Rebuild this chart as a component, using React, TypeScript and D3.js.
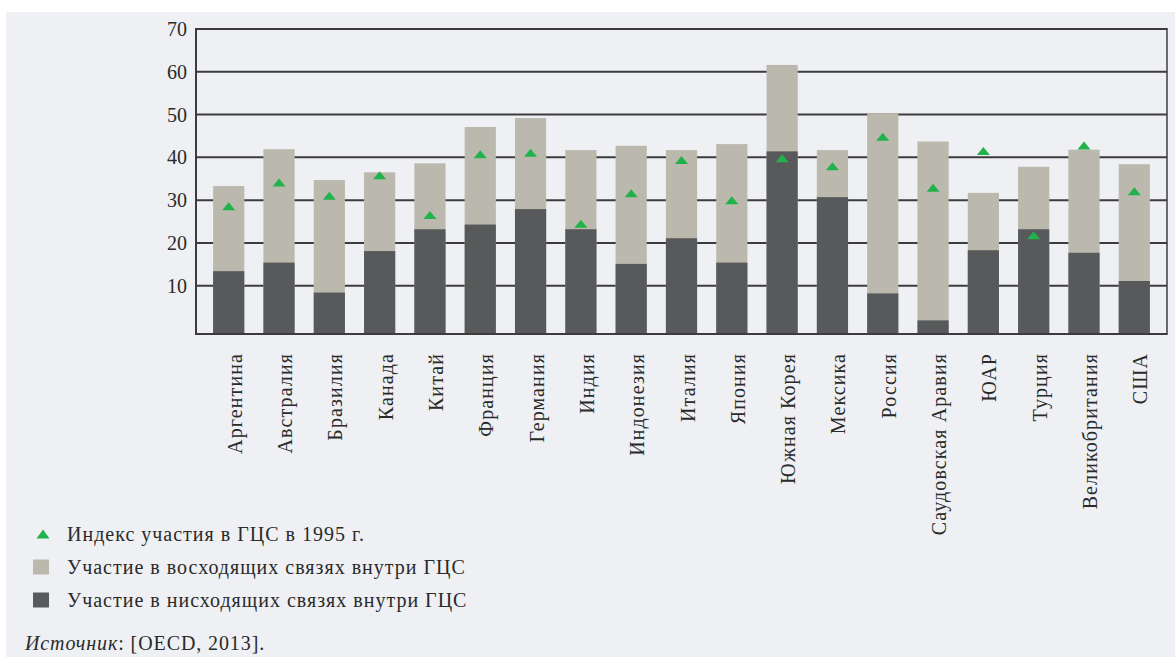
import * as d3 from 'd3';

const countries = [
  'Аргентина', 'Австралия', 'Бразилия', 'Канада', 'Китай', 'Франция', 'Германия',
  'Индия', 'Индонезия', 'Италия', 'Япония', 'Южная Корея', 'Мексика', 'Россия',
  'Саудовская Аравия', 'ЮАР', 'Турция', 'Великобритания', 'США',
];

// total participation (top of light bar)
const totalValues = [33.3, 41.9, 34.7, 36.5, 38.6, 47.1, 49.2, 41.7, 42.7, 41.7, 43.1, 61.6, 41.7, 50.3, 43.7, 31.7, 37.8, 41.8, 38.4];
// downstream participation (dark bar)
const downstreamValues = [13.4, 15.4, 8.4, 18.1, 23.2, 24.3, 27.9, 23.2, 15.1, 21.1, 15.4, 41.4, 30.7, 8.2, 1.9, 18.3, 23.2, 17.7, 11.1];
// 1995 participation index
const index1995 = [28.6, 34.1, 31.0, 35.8, 26.5, 40.7, 41.1, 24.5, 31.6, 39.4, 30.0, 39.8, 37.9, 44.8, 32.9, 41.5, 21.8, 42.8, 32.1];

const yTicks = [10, 20, 30, 40, 50, 60, 70];

const legendItems = [
  { kind: 'triangle', label: 'Индекс участия в ГЦС в 1995 г.' },
  { kind: 'light', label: 'Участие в восходящих связях внутри ГЦС' },
  { kind: 'dark', label: 'Участие в нисходящих связях внутри ГЦС' },
];

const W = 1175;
const H = 657;
const plot = { left: 196, right: 1167, top: 29, zeroY: 328.5, bottomY: 334 };

const BG = '#eef0f3';
const LIGHT = '#bbb9ad';
const DARK = '#58595b';
const GREEN = '#21b24b';
const TEXT = '#2a2a2a';
const GRID = '#3c3c3c';
const FONT = '"Liberation Serif", "DejaVu Serif", serif';

const triPath = (w: number, h: number) => `M0,${-h / 2}L${w / 2},${h / 2}L${-w / 2},${h / 2}Z`;

export default function App() {
  const x = d3.scaleBand<string>()
    .domain(countries)
    .range([plot.left, plot.right])
    .paddingInner(0.38)
    .paddingOuter(0.34);

  const y = d3.scaleLinear().domain([0, 70]).range([plot.zeroY, plot.top]);

  const bw = x.bandwidth();

  return (
    <div style={{ position: 'absolute', left: 0, top: 0, width: W, height: H, background: '#fff' }}>
      <svg width={W} height={H} style={{ display: 'block', fontFamily: FONT }}>
        <rect x={6} y={12} width={W - 6} height={H - 12} fill={BG} />

        {/* gridlines */}
        {yTicks.map(t => (
          <line key={t} x1={plot.left} x2={plot.right} y1={y(t)} y2={y(t)} stroke={GRID} strokeWidth={2} />
        ))}

        {/* bars */}
        {countries.map((c, i) => (
          <g key={c}>
            <rect x={x(c)} y={y(totalValues[i])} width={bw} height={plot.bottomY - y(totalValues[i])} fill={LIGHT} />
            <rect x={x(c)} y={y(downstreamValues[i])} width={bw} height={plot.bottomY - y(downstreamValues[i])} fill={DARK} />
          </g>
        ))}

        {/* frame */}
        <line x1={plot.left} x2={plot.left} y1={plot.top - 1} y2={plot.bottomY + 1} stroke={GRID} strokeWidth={2} />
        <line x1={plot.right} x2={plot.right} y1={plot.top - 1} y2={plot.bottomY + 1} stroke={GRID} strokeWidth={1.5} />
        <line x1={plot.left} x2={plot.right} y1={plot.bottomY} y2={plot.bottomY} stroke={GRID} strokeWidth={2} />

        {/* 1995 markers */}
        {countries.map((c, i) => (
          <path key={c} d={triPath(13, 8)} fill={GREEN}
            transform={`translate(${(x(c) ?? 0) + bw / 2},${y(index1995[i])})`} />
        ))}

        {/* y tick labels */}
        {yTicks.map(t => (
          <text key={t} x={plot.left - 9} y={y(t)} dy="0.35em" textAnchor="end" fontSize={20} fill={TEXT}>{t}</text>
        ))}

        {/* x labels */}
        {countries.map(c => (
          <text key={c} textAnchor="end" fontSize={20} letterSpacing={1.1} fill={TEXT}
            transform={`translate(${(x(c) ?? 0) + bw / 2 + 13},${plot.bottomY + 19}) rotate(-90)`}>{c}</text>
        ))}

        {/* legend */}
        {legendItems.map((item, i) => {
          const cy = 534 + i * 33;
          return (
            <g key={item.label}>
              {item.kind === 'triangle'
                ? <path d={triPath(13, 9)} fill={GREEN} transform={`translate(43,${cy})`} />
                : <rect x={33} y={cy - 7.5} width={16} height={15} fill={item.kind === 'light' ? LIGHT : DARK} />}
              <text x={67} y={cy} dy="0.35em" fontSize={20} letterSpacing={1.0} fill={TEXT}>{item.label}</text>
            </g>
          );
        })}

        <text x={25} y={650} fontSize={20} letterSpacing={0.9} fill={TEXT}>
          <tspan fontStyle="italic">Источник</tspan>: [OECD, 2013].
        </text>
      </svg>
    </div>
  );
}
